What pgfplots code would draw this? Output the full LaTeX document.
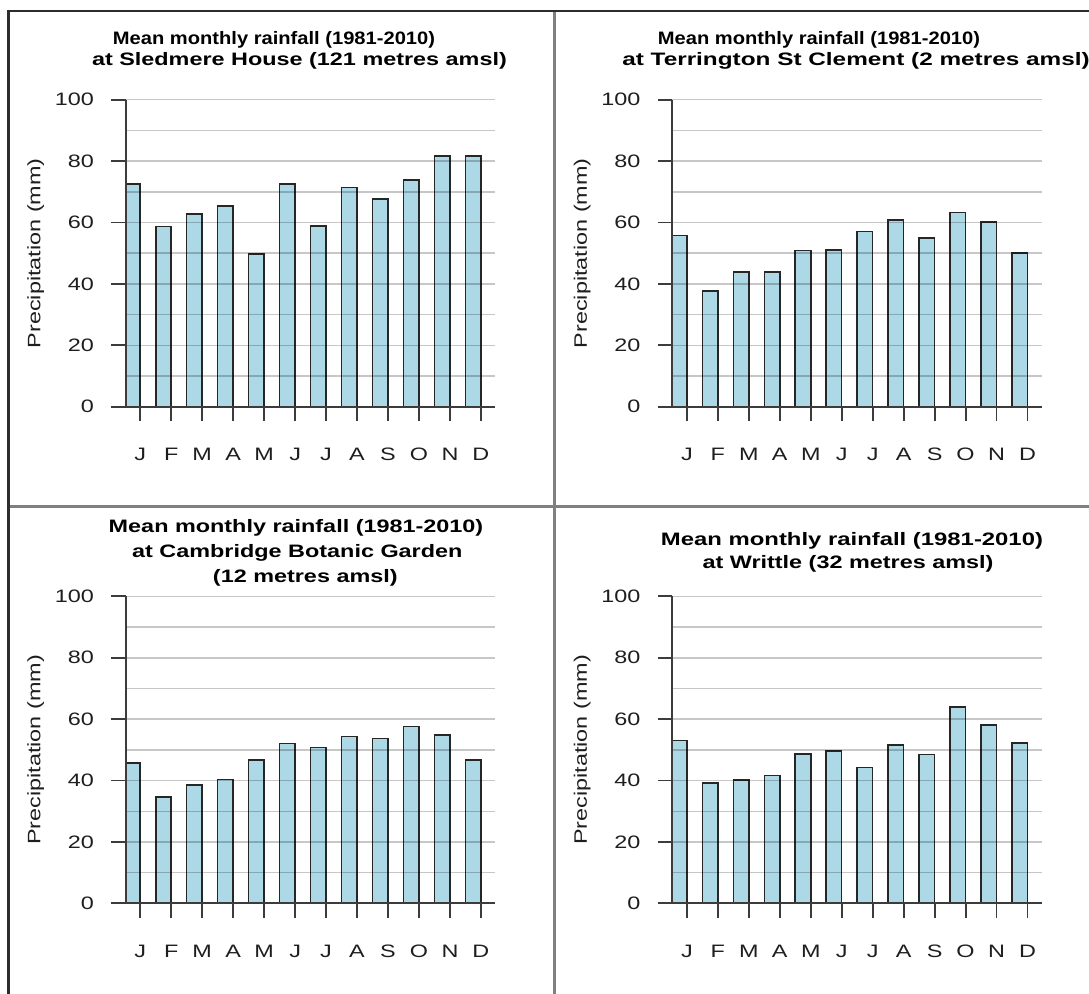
\documentclass[border=0pt]{standalone}
\usepackage{fontspec}
\setmainfont{Liberation Sans}[FakeStretch=1.3]
\usepackage{pgfplots}
\pgfplotsset{compat=1.18}
\usepackage{pgfplotstable}

\definecolor{barblue}{RGB}{173,216,230}
\definecolor{axisgray}{RGB}{60,60,60}
\definecolor{labelgray}{RGB}{30,30,30}
\definecolor{framedark}{RGB}{45,45,45}
\definecolor{framegray}{RGB}{128,128,128}

\pgfplotstableread{
m v
0 72.5
1 58.7
2 62.8
3 65.4
4 49.8
5 72.5
6 58.9
7 71.4
8 67.6
9 73.9
10 81.6
11 81.6
}\sledmere
\pgfplotstableread{
m v
0 55.7
1 37.6
2 43.9
3 43.9
4 50.9
5 51.1
6 57.0
7 60.8
8 55.0
9 63.3
10 60.1
11 50.0
}\terrington
\pgfplotstableread{
m v
0 45.8
1 34.6
2 38.5
3 40.4
4 46.7
5 52.1
6 50.8
7 54.3
8 53.7
9 57.6
10 54.8
11 46.7
}\cambridge
\pgfplotstableread{
m v
0 53.0
1 39.2
2 40.1
3 41.6
4 48.6
5 49.7
6 44.2
7 51.6
8 48.5
9 63.9
10 58.1
11 52.2
}\writtle

\pgfplotsset{rainstyle/.style={
  scale only axis, width=276.98pt, height=230.2pt,
  xmin=-0.22, xmax=11.705, ymin=0, ymax=100,
  axis lines=left,
  axis line style={-, draw=axisgray, line width=1.4pt},
  axis on top,
  ytick={0,20,40,60,80,100},
  minor ytick={10,30,50,70,90},
  ymajorgrids, yminorgrids,
  major grid style={draw=black, draw opacity=0.22, line width=1.1pt},
  minor grid style={draw=black, draw opacity=0.22, line width=1.1pt},
  xtick={0.25,1.25,2.25,3.25,4.25,5.25,6.25,7.25,8.25,9.25,10.25,11.25},
  xticklabels={J,F,M,A,M,J,J,A,S,O,N,D},
  tick align=outside, major tick length=10.9pt, minor tick length=0pt,
  tick style={draw=axisgray, line width=1.4pt},
  tick label style={font=\fontsize{13.5}{16}\selectfont, text=labelgray},
  /pgf/number format/assume math mode=true,
  yticklabel style={anchor=east, inner sep=0pt, xshift=-12.75pt},
  xticklabel style={anchor=center, inner sep=0pt, yshift=-24.8pt},
  ylabel={Precipitation (mm)},
  every axis y label/.style={at={(axis description cs:-0.2437,0.5)}, anchor=center, rotate=90, font=\fontsize{13.5}{16}\selectfont, text=labelgray},
  ybar, bar width=0.5, bar shift=0pt,
}}

\begin{document}
\begin{tikzpicture}
\path[use as bounding box] (0pt,0pt) rectangle (816.75pt,-745.5pt);

% frame
\draw[framegray, line width=2.25pt] (415.65pt,-9pt) -- (415.65pt,-745.5pt);
\draw[framegray, line width=2.25pt] (7.5pt,-379.65pt) -- (816.75pt,-379.65pt);
\draw[framedark, line width=1.6pt] (5.25pt,-8.25pt) -- (816.75pt,-8.25pt);
\draw[framedark, line width=2.25pt] (6.375pt,-7.45pt) -- (6.375pt,-745.5pt);

% titles
\begin{scope}[every node/.style={anchor=base, inner sep=0pt, font=\bfseries\fontsize{13.5}{16}\selectfont}]
\node at (205.5pt,-33.75pt) {\scalebox{0.86}[1]{Mean monthly rainfall (1981-2010)}};
\node at (224.6pt,-49.5pt) {at Sledmere House (121 metres amsl)};
\node at (614.25pt,-33.75pt) {\scalebox{0.86}[1]{Mean monthly rainfall (1981-2010)}};
\node at (642pt,-49.5pt) {\scalebox{1.04}[1]{at Terrington St Clement (2 metres amsl)}};
\node at (222pt,-399.75pt) {Mean monthly rainfall (1981-2010)};
\node at (223pt,-417.75pt) {at Cambridge Botanic Garden};
\node at (229pt,-436.5pt) {(12 metres amsl)};
\node at (639pt,-409.5pt) {\scalebox{1.02}[1]{Mean monthly rainfall (1981-2010)}};
\node at (636pt,-426.75pt) {at Writtle (32 metres amsl)};
\end{scope}

\begin{axis}[rainstyle, at={(94.28pt,-305pt)}, anchor=south west]
\addplot[fill=barblue, draw=black!85, line width=1.15pt] table[x=m,y=v] {\sledmere};
\end{axis}
\begin{axis}[rainstyle, at={(504.23pt,-305pt)}, anchor=south west]
\addplot[fill=barblue, draw=black!85, line width=1.15pt] table[x=m,y=v] {\terrington};
\end{axis}
\begin{axis}[rainstyle, at={(94.28pt,-677.5pt)}, anchor=south west]
\addplot[fill=barblue, draw=black!85, line width=1.15pt] table[x=m,y=v] {\cambridge};
\end{axis}
\begin{axis}[rainstyle, at={(504.23pt,-677.5pt)}, anchor=south west]
\addplot[fill=barblue, draw=black!85, line width=1.15pt] table[x=m,y=v] {\writtle};
\end{axis}
\end{tikzpicture}
\end{document}
